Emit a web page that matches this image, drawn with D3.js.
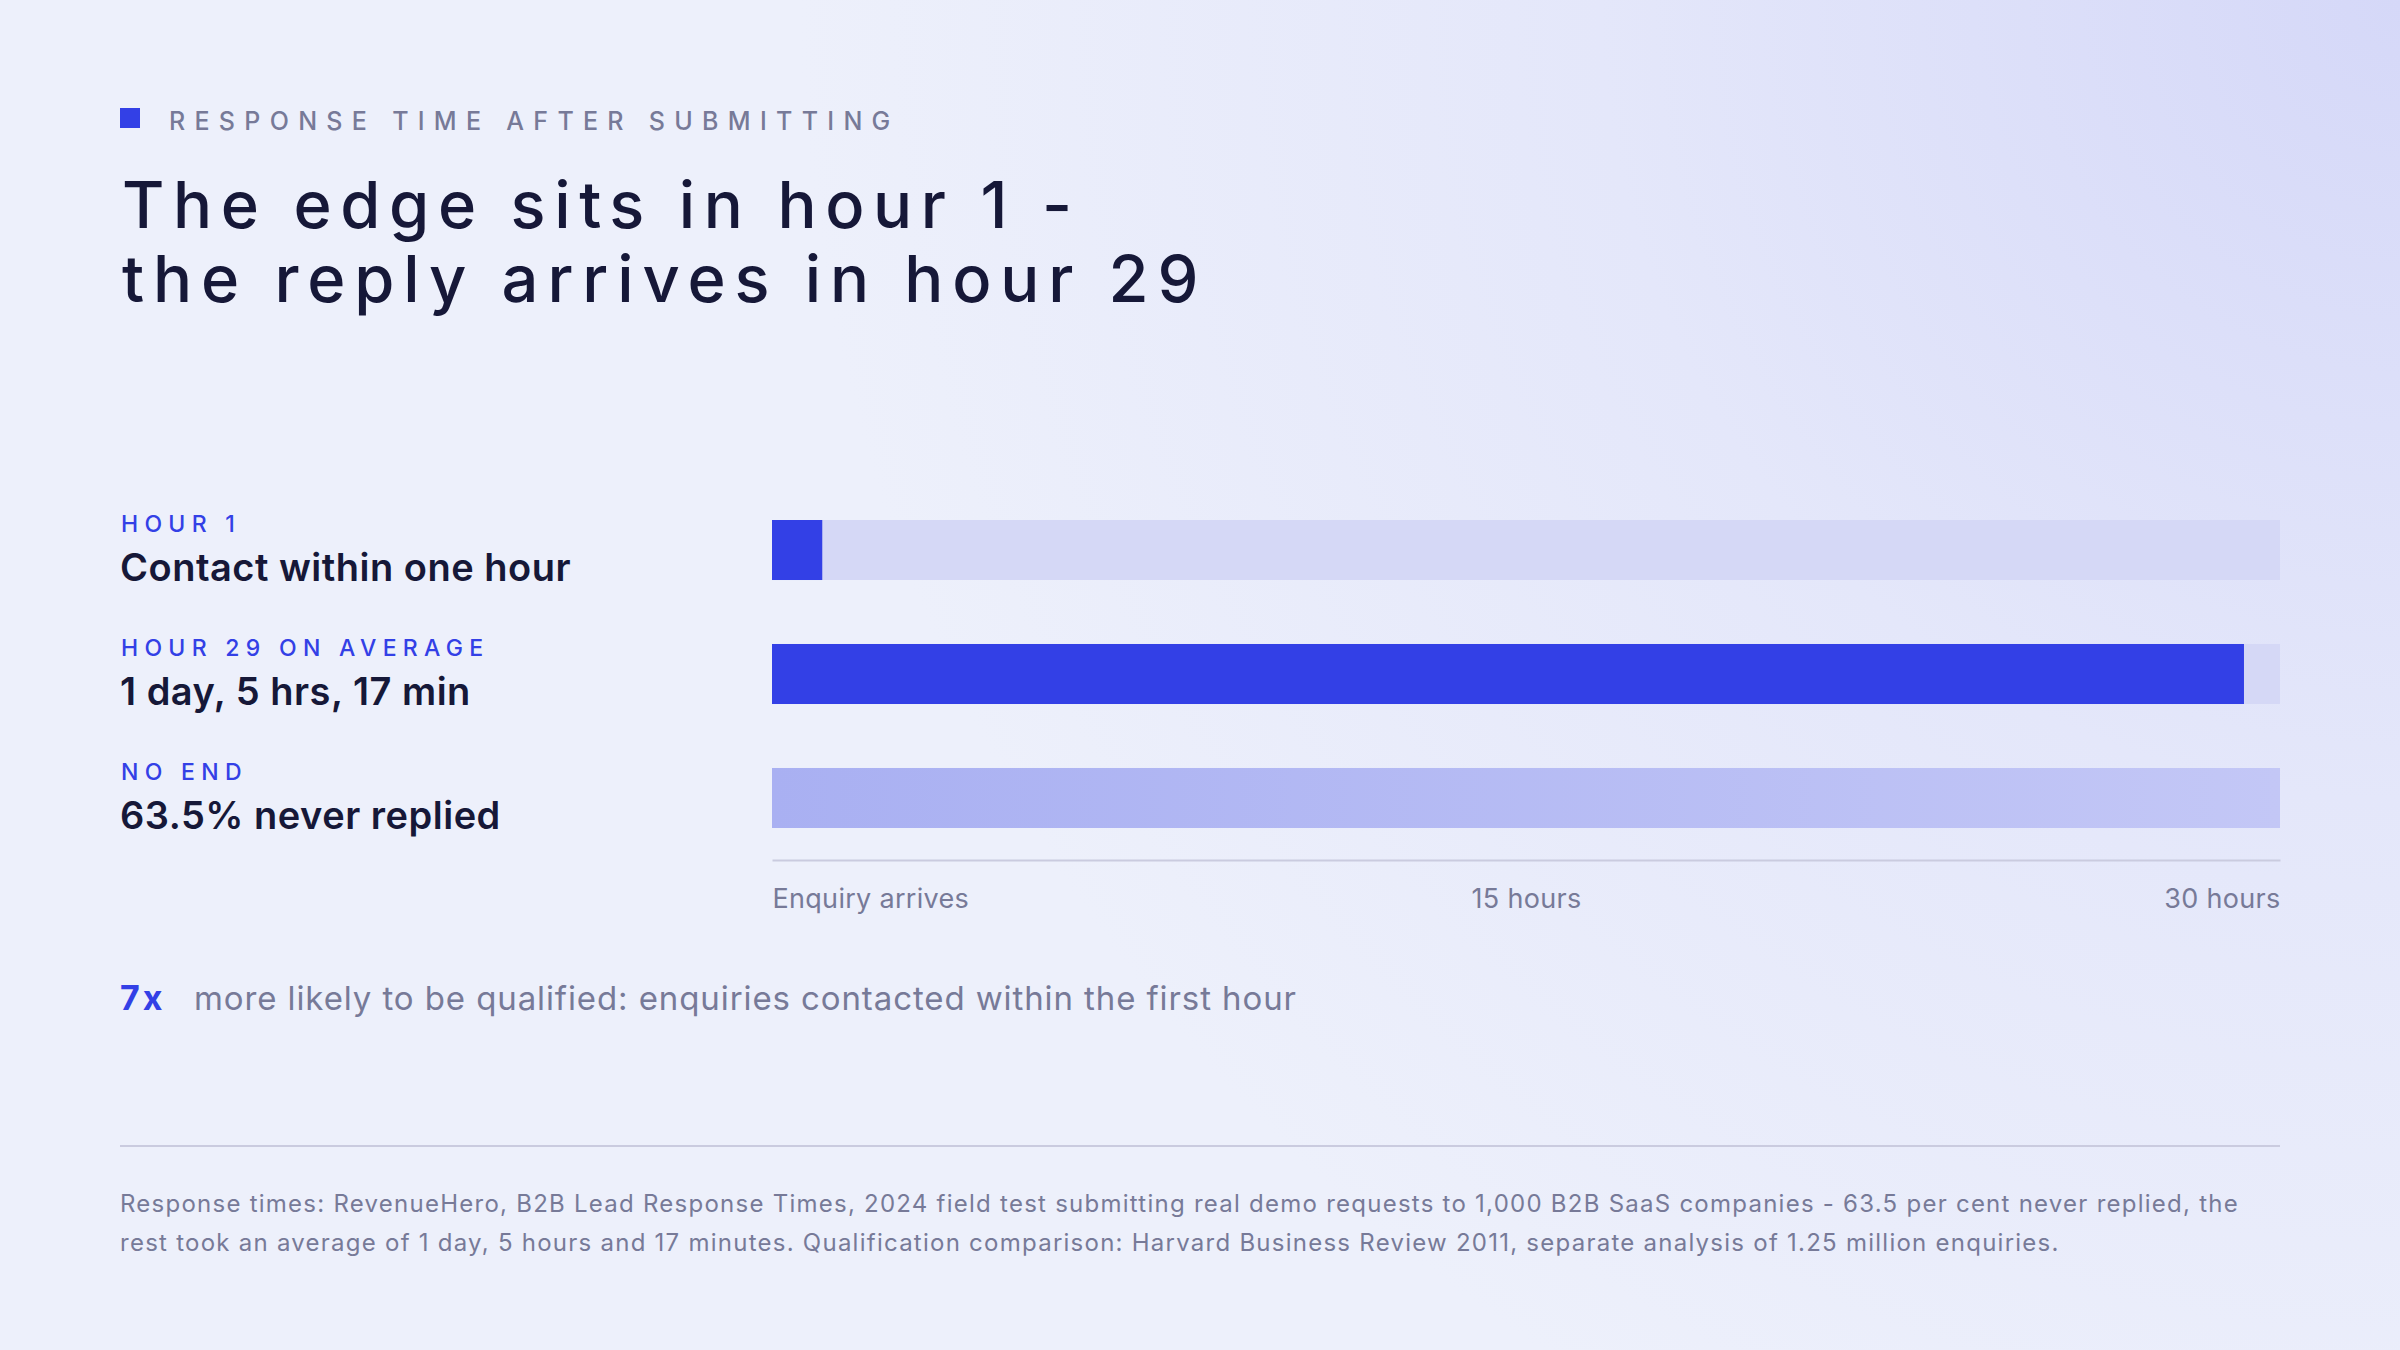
<!DOCTYPE html>
<html lang="en">
<head>
<meta charset="utf-8">
<title>Response time after submitting</title>
<style>
body{
  margin: 0;
  background: #edf0fb;
}
svg text{
  font-family: Inter, "Noto Sans", sans-serif;
}
</style>
</head>
<body>
<div id="chart"></div>
<script src="https://cdn.jsdelivr.net/npm/d3@7"></script>
<script>

// data
const eyebrow = "RESPONSE TIME AFTER SUBMITTING";
const titleLines = ["The edge sits in hour 1 -", "the reply arrives in hour 29"];
const rowLabels = ["HOUR 1", "HOUR 29 ON AVERAGE", "NO END"];
const rowValues = ["Contact within one hour", "1 day, 5 hrs, 17 min", "63.5% never replied"];
const rowHours = [1, 29 + 17 / 60, 30];      // last one never ends: drawn to the edge
const openEnded = [false, false, true];
const tickValues = [0, 15, 30];
const tickLabels = ["Enquiry arrives", "15 hours", "30 hours"];
const calloutFigure = "7x";
const calloutText = "more likely to be qualified: enquiries contacted within the first hour";
const sourceLines = [
  "Response times: RevenueHero, B2B Lead Response Times, 2024 field test submitting real demo requests to 1,000 B2B SaaS companies - 63.5 per cent never replied, the",
  "rest took an average of 1 day, 5 hours and 17 minutes. Qualification comparison: Harvard Business Review 2011, separate analysis of 1.25 million enquiries."
];

const width = 2400;
const height = 1350;
const left = 120;
const blue = "#3340e6";
const track = "#d5d8f6";
const grey = "#777a98";
const ink = "#161838";

const svg = d3.select('#chart')
  .append('svg')
  .attr('width', width)
  .attr('height', height);

const defs = svg.append('defs');
const bg = defs.append('radialGradient')
  .attr('id', 'bg')
  .attr('gradientUnits', 'userSpaceOnUse')
  .attr('cx', width).attr('cy', 0).attr('r', 1600);
bg.append('stop').attr('offset', 0).attr('stop-color', '#d5d8f8');
bg.append('stop').attr('offset', 0.5).attr('stop-color', '#e4e7fa');
bg.append('stop').attr('offset', 1).attr('stop-color', '#edf0fb');

const fade = defs.append('linearGradient')
  .attr('id', 'fade')
  .attr('x1', 0).attr('x2', 1).attr('y1', 0).attr('y2', 0);
fade.append('stop').attr('offset', 0).attr('stop-color', '#a9b0f2');
fade.append('stop').attr('offset', 1).attr('stop-color', '#c3c7f6');

svg.append('rect')
  .attr('width', width)
  .attr('height', height)
  .attr('fill', 'url(#bg)');

// header
svg.append('rect')
  .attr('x', left).attr('y', 108)
  .attr('width', 20).attr('height', 20)
  .attr('fill', blue);

svg.append('text')
  .attr('x', 169).attr('y', 130)
  .attr('fill', grey)
  .style('font-size', '25px')
  .style('font-weight', 500)
  .style('letter-spacing', '9.3px')
  .text(eyebrow);

svg.append('g')
  .selectAll('text')
  .data(titleLines)
  .join('text')
  .attr('x', left + 2)
  .attr('y', (d, i) => 228 + i * 74)
  .attr('fill', ink)
  .style('font-size', '65px')
  .style('font-weight', 500)
  .style('letter-spacing', (d, i) => i === 0 ? '8.6px' : '8.9px')
  .text(d => d);

// bars
const x = d3.scaleLinear()
  .domain([0, 30])
  .range([772, 2280]);

const y = d3.scaleBand()
  .domain(rowLabels)
  .range([520, 828])
  .paddingInner(0.516)
  .paddingOuter(0);

const rows = svg.append('g')
  .selectAll('g')
  .data(rowLabels)
  .join('g')
  .attr('transform', d => 'translate(0,' + y(d) + ')');

rows.append('text')
  .attr('x', left + 1)
  .attr('y', 12)
  .attr('fill', blue)
  .style('font-size', '23px')
  .style('font-weight', 500)
  .style('letter-spacing', '6.3px')
  .text(d => d);

rows.append('text')
  .attr('x', left)
  .attr('y', 61)
  .attr('fill', ink)
  .style('font-size', '38px')
  .style('font-weight', 600)
  .style('letter-spacing', '0.5px')
  .text((d, i) => rowValues[i]);

rows.append('rect')
  .attr('x', x(0))
  .attr('width', x(30) - x(0))
  .attr('height', y.bandwidth())
  .attr('fill', track);

rows.append('rect')
  .attr('x', x(0))
  .attr('width', (d, i) => x(rowHours[i]) - x(0))
  .attr('height', y.bandwidth())
  .attr('fill', (d, i) => openEnded[i] ? 'url(#fade)' : blue);

// axis
const axis = svg.append('g')
  .attr('transform', 'translate(0,860)')
  .call(d3.axisBottom(x)
    .tickValues(tickValues)
    .tickFormat((d, i) => tickLabels[i])
    .tickSize(0)
    .tickPadding(29));

axis.select('.domain')
  .attr('stroke', '#cacbdf')
  .attr('stroke-width', 2);

axis.selectAll('text')
  .attr('fill', grey)
  .style('font-size', '27px')
  .style('letter-spacing', '0.3px')
  .style('font-family', 'Inter, sans-serif')
  .attr('text-anchor', (d, i) => i === 0 ? 'start' : (i === tickValues.length - 1 ? 'end' : 'middle'));

// callout
const callout = svg.append('text')
  .attr('x', left)
  .attr('y', 1010);
callout.append('tspan')
  .attr('fill', blue)
  .style('font-size', '34px')
  .style('font-weight', 700)
  .style('letter-spacing', '3px')
  .text(calloutFigure);
callout.append('tspan')
  .attr('x', 194)
  .attr('fill', grey)
  .style('font-size', '33px')
  .style('letter-spacing', '0.9px')
  .text(calloutText);

// source
svg.append('line')
  .attr('x1', left).attr('x2', 2280)
  .attr('y1', 1146).attr('y2', 1146)
  .attr('stroke', '#cacbdf')
  .attr('stroke-width', 2);

svg.append('g')
  .selectAll('text')
  .data(sourceLines)
  .join('text')
  .attr('x', left)
  .attr('y', (d, i) => 1212 + i * 39)
  .attr('fill', grey)
  .style('font-size', '24px')
  .style('letter-spacing', '1.25px')
  .text(d => d);

</script>
</body>
</html>
